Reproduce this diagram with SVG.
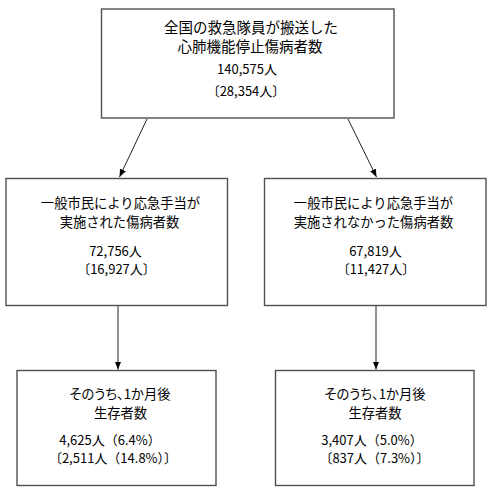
<svg xmlns="http://www.w3.org/2000/svg" width="491" height="491" viewBox="0 0 491 491">
<style>
.box{fill:#fff;stroke:#505050;stroke-width:1.4}
.t{font-family:"Noto Sans CJK JP","Liberation Sans",sans-serif;font-size:13.3px;fill:#000;text-anchor:middle}
.big{font-size:14.5px}
.n{font-size:13px}
.p{font-feature-settings:"palt"}
.c{stroke:#222;stroke-width:1;fill:none;marker-end:url(#ah)}
</style>
<defs>
<marker id="ah" markerUnits="userSpaceOnUse" markerWidth="8" markerHeight="8" refX="8" refY="4" orient="auto">
<path d="M0,0.8 L8,4 L0,7.2 Z" fill="#000"/>
</marker>
</defs>
<rect width="491" height="491" fill="#fff"/>
<g id="connectors">
<line class="c" x1="147" y1="119" x2="119.5" y2="177"/>
<line class="c" x1="348" y1="119" x2="376.5" y2="177"/>
<line class="c" x1="118" y1="306" x2="118" y2="369.5"/>
<line class="c" x1="376" y1="306" x2="376" y2="369.5"/>
</g>
<g id="node-top">
<rect class="box" x="101.5" y="9" width="292.5" height="109"/>
<text class="t big" x="251" y="33">全国の救急隊員が搬送した</text>
<text class="t big" x="250" y="52">心肺機能停止傷病者数</text>
<text class="t n" x="247" y="74">140,575人</text>
<text class="t n" x="246" y="96">〔28,354人〕</text>
</g>
<g id="node-left">
<rect class="box" x="6" y="178.5" width="221.5" height="127"/>
<text class="t" x="120.5" y="208">一般市民により応急手当が</text>
<text class="t" x="119.5" y="227">実施された傷病者数</text>
<text class="t n" x="115.5" y="256">72,756人</text>
<text class="t n" x="116.5" y="274">〔16,927人〕</text>
</g>
<g id="node-right">
<rect class="box" x="264.5" y="178.5" width="221.5" height="127"/>
<text class="t" x="373.5" y="208">一般市民により応急手当が</text>
<text class="t" x="373.5" y="227">実施されなかった傷病者数</text>
<text class="t n" x="375.5" y="256">67,819人</text>
<text class="t n" x="376" y="274">〔11,427人〕</text>
</g>
<g id="node-bottom-left">
<rect class="box" x="17" y="370.5" width="199" height="115"/>
<text class="t p" x="120" y="399">そのうち、1か月後</text>
<text class="t" x="120.5" y="418">生存者数</text>
<text class="t n" x="110" y="445">4,625人（6.4%）</text>
<text class="t n" x="113" y="463">〔2,511人（14.8%）〕</text>
</g>
<g id="node-bottom-right">
<rect class="box" x="275.5" y="370.5" width="198.5" height="115"/>
<text class="t p" x="375" y="399">そのうち、1か月後</text>
<text class="t" x="375" y="418">生存者数</text>
<text class="t n" x="372" y="445">3,407人（5.0%）</text>
<text class="t n" x="374.5" y="463">〔837人（7.3%）〕</text>
</g>
</svg>
